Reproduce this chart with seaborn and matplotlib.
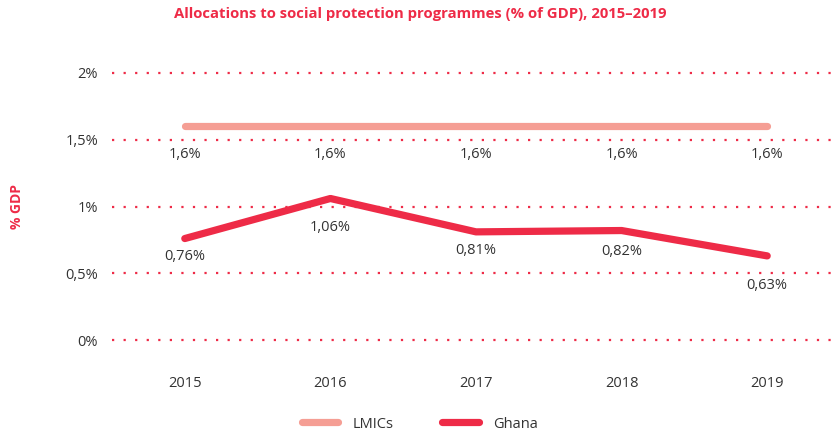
import numpy as np
import pandas as pd
import seaborn as sns
import matplotlib.pyplot as plt

# ---------------------------------------------
# Data
# ---------------------------------------------
years = ['2015', '2016', '2017', '2018', '2019']
lmics = [1.6, 1.6, 1.6, 1.6, 1.6]
ghana = [0.76, 1.06, 0.81, 0.82, 0.63]
lmics_labels = ['1,6%', '1,6%', '1,6%', '1,6%', '1,6%']
ghana_labels = ['0,76%', '1,06%', '0,81%', '0,82%', '0,63%']
y_ticks = [0, 0.5, 1, 1.5, 2]
y_tick_labels = ['0%', '0,5%', '1%', '1,5%', '2%']

RED = '#ee2b47'
PINK = '#f59e94'
TEXT = '#333333'

df = pd.DataFrame({
    'Year': years * 2,
    'Value': lmics + ghana,
    'Series': ['LMICs'] * len(years) + ['Ghana'] * len(years),
})

sns.set_style('white')
plt.rcParams['font.family'] = ['Open Sans', 'DejaVu Sans']

fig = plt.figure(figsize=(8.4, 4.38), dpi=100)
ax = fig.add_axes([112 / 840, 1 - 340 / 438, 1 - 112 / 840, (340 - 73) / 438])

# dotted grid
for t in y_ticks:
    ax.axhline(t, color=RED, linestyle=(0, (1, 4.2)), linewidth=1.6, zorder=0, clip_on=False)

sns.lineplot(data=df, x='Year', y='Value', hue='Series', palette={'LMICs': PINK, 'Ghana': RED},
             linewidth=5.2, ax=ax, sort=False, legend=False)
for line in ax.lines:
    line.set_solid_capstyle('round')
    line.set_solid_joinstyle('round')

# value labels under the points (offsets in points, as placed in the original)
lmics_offsets = [-20, -20, -20, -20, -20]
ghana_offsets = [-13, -21, -13.5, -15, -21.5]
for i, (v, lab, off) in enumerate(zip(lmics, lmics_labels, lmics_offsets)):
    ax.annotate(lab, (i, v), xytext=(0, off), textcoords='offset points',
                ha='center', va='center', fontsize=10.5, color=TEXT)
for i, (v, lab, off) in enumerate(zip(ghana, ghana_labels, ghana_offsets)):
    ax.annotate(lab, (i, v), xytext=(0, off), textcoords='offset points',
                ha='center', va='center', fontsize=10.5, color=TEXT)

ax.set_xlim(-0.5, 4.5)
ax.set_ylim(0, 2)
ax.set_yticks(y_ticks)
ax.set_yticklabels(y_tick_labels)
ax.tick_params(axis='both', length=0, labelsize=10.5, colors=TEXT)
ax.tick_params(axis='x', pad=26)
ax.tick_params(axis='y', pad=10)
for s in ax.spines.values():
    s.set_visible(False)
ax.set_xlabel('')
ax.set_ylabel('% GDP', color=RED, fontsize=10, fontweight='bold', labelpad=30)

fig.text(0.5, 1 - 14 / 438, 'Allocations to social protection programmes (% of GDP), 2015–2019',
         ha='center', va='center', fontsize=10.7, fontweight='bold', color=RED)

# legend
handles = [plt.Line2D([], [], color=PINK, linewidth=5.2, solid_capstyle='round'),
           plt.Line2D([], [], color=RED, linewidth=5.2, solid_capstyle='round')]
fig.legend(handles, ['LMICs', 'Ghana'], loc='center', bbox_to_anchor=(0.5, 1 - 424 / 438),
           ncol=2, frameon=False, fontsize=10.5, handlelength=2.5, handletextpad=1.0,
           columnspacing=3.3, labelcolor=TEXT)

fig.savefig('out.png', dpi=100)
